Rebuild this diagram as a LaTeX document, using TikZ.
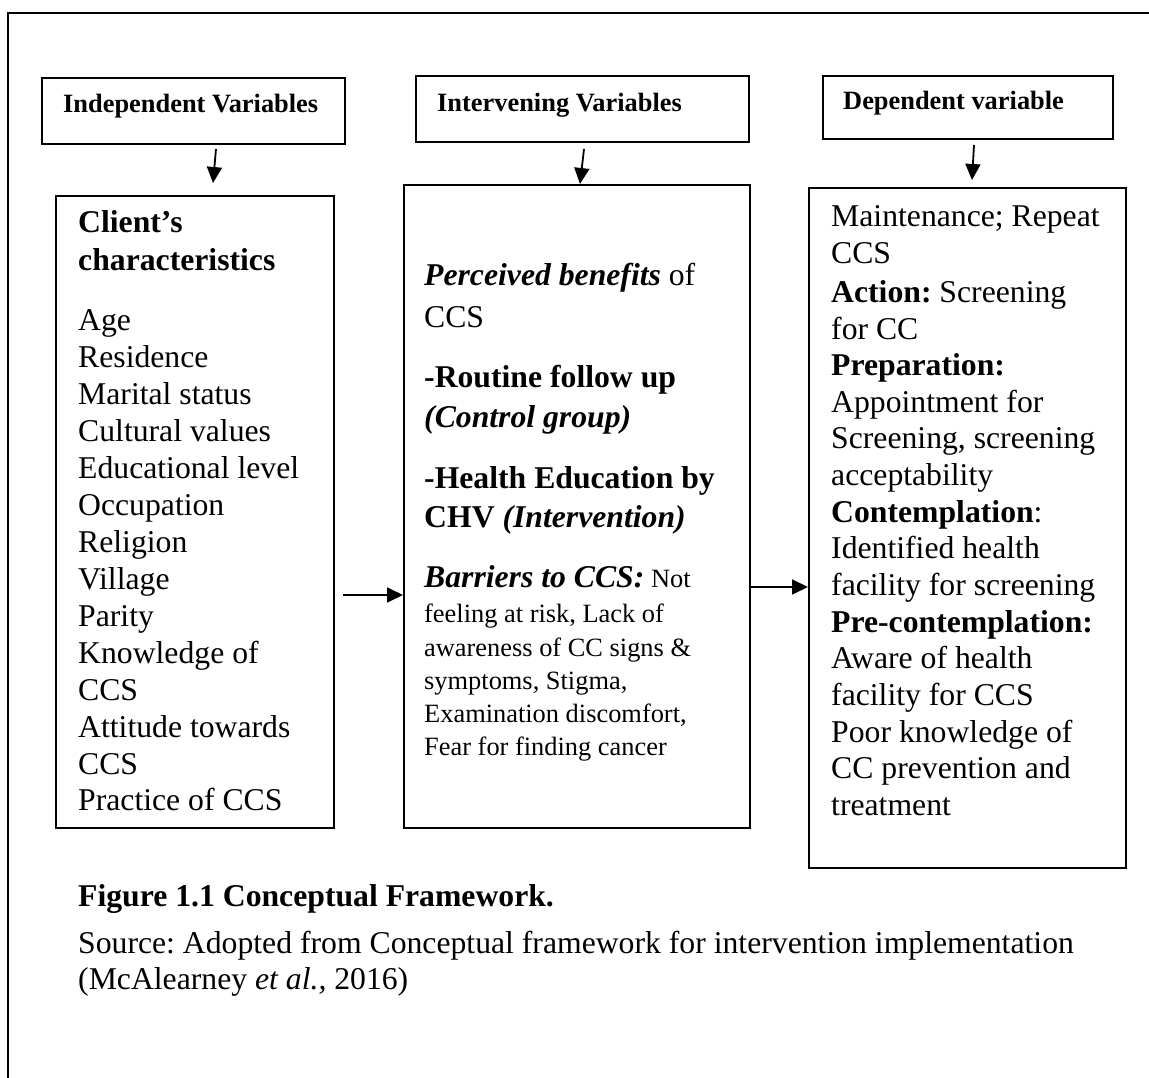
\documentclass[tikz,border=0pt]{standalone}
\usepackage{fontspec}
\setmainfont{Liberation Serif}
\usetikzlibrary{arrows.meta,calc}
\frenchspacing
\begin{document}
\begin{tikzpicture}[x=1pt,y=-1pt,
  box/.style={draw, line width=1.8pt, inner sep=0pt, outer sep=0pt, anchor=north west},
  txt/.style={anchor=base west, inner sep=0pt, font=\fontsize{31.7}{36}\selectfont},
  sml/.style={anchor=base west, inner sep=0pt, font=\fontsize{26.4}{30}\selectfont},
  arr/.style={line width=1.8pt, -{Triangle[length=16pt,width=15pt]}}]
\useasboundingbox (0,0) rectangle (1149,1078);
\draw[line width=2.7pt] (1149,13) -- (8,13) -- (8,1078);

% header boxes
\node[box, minimum width=303pt, minimum height=66pt] (h1) at (42,78) {};
\node[box, minimum width=333pt, minimum height=66pt] (h2) at (416,76) {};
\node[box, minimum width=290pt, minimum height=63pt] (h3) at (823,76) {};
\node[sml, font=\fontsize{26.4}{30}\selectfont\bfseries] (t-h1) at (63,113) {Independent Variables};
\node[sml, font=\fontsize{26.4}{30}\selectfont\bfseries] (t-h2) at (437,112) {Intervening Variables};
\node[sml, font=\fontsize{26.4}{30}\selectfont\bfseries] (t-h3) at (843,110) {Dependent variable};

% main boxes
\node[box, minimum width=278pt, minimum height=632pt] (b1) at (56,196) {};
\node[box, minimum width=346pt, minimum height=643pt] (b2) at (404,185) {};
\node[box, minimum width=317pt, minimum height=680pt] (b3) at (809,188) {};

% box 1 text
\node[txt] (c1) at (78,233) {\textbf{Client’s}};
\node[txt] (c2) at (78,270) {\textbf{characteristics}};
\node[txt] (c3) at (78,330) {Age};
\node[txt] (c4) at (78,367) {Residence};
\node[txt] (c5) at (78,404) {Marital status};
\node[txt] (c6) at (78,441) {Cultural values};
\node[txt] (c7) at (78,478) {Educational level};
\node[txt] (c8) at (78,515) {Occupation};
\node[txt] (c9) at (78,552) {Religion};
\node[txt] (c10) at (78,589) {Village};
\node[txt] (c11) at (78,626) {Parity};
\node[txt] (c12) at (78,663) {Knowledge of};
\node[txt] (c13) at (78,700) {CCS};
\node[txt] (c14) at (78,737) {Attitude towards};
\node[txt] (c15) at (78,774) {CCS};
\node[txt] (c16) at (78,810) {Practice of CCS};

% box 2 text
\node[txt] (m1) at (424,285) {\textbf{\textit{Perceived benefits}} of};
\node[txt] (m2) at (424,327) {CCS};
\node[txt] (m3) at (424,387) {\textbf{-Routine follow up}};
\node[txt] (m4) at (424,427) {\textbf{\textit{(Control group)}}};
\node[txt] (m5) at (424,488) {\textbf{-Health Education by}};
\node[txt] (m6) at (424,527) {\textbf{CHV \textit{(Intervention)}}};
\node[txt] (m7) at (424,587) {\textbf{\textit{Barriers to CCS:}}\fontsize{26.4}{30}\selectfont{} Not};
\node[sml] (m8) at (424,622) {feeling at risk, Lack of};
\node[sml] (m9) at (424,656) {awareness of CC signs \&};
\node[sml] (m10) at (424,689) {symptoms, Stigma,};
\node[sml] (m11) at (424,722) {Examination discomfort,};
\node[sml] (m12) at (424,755) {Fear for finding cancer};

% box 3 text
\node[txt] (d1) at (831,227) {Maintenance; Repeat};
\node[txt] (d2) at (831,264) {CCS};
\node[txt] (d3) at (831,302) {\textbf{Action:} Screening};
\node[txt] (d4) at (831,339) {for CC};
\node[txt] (d5) at (831,375) {\textbf{Preparation:}};
\node[txt] (d6) at (831,412) {Appointment for};
\node[txt] (d7) at (831,448) {Screening, screening};
\node[txt] (d8) at (831,485) {acceptability};
\node[txt] (d9) at (831,522) {\textbf{Contemplation}:};
\node[txt] (d10) at (831,558) {Identified health};
\node[txt] (d11) at (831,595) {facility for screening};
\node[txt] (d12) at (831,632) {\textbf{Pre-contemplation:}};
\node[txt] (d13) at (831,668) {Aware of health};
\node[txt] (d14) at (831,705) {facility for CCS};
\node[txt] (d15) at (831,742) {Poor knowledge of};
\node[txt] (d16) at (831,778) {CC prevention and};
\node[txt] (d17) at (831,815) {treatment};

% caption
\node[txt] (f1) at (78,906) {\textbf{Figure 1.1 Conceptual Framework.}};
\node[txt] (f2) at (78,953) {Source: Adopted from Conceptual framework for intervention implementation};
\node[txt] (f3) at (78,989) {(McAlearney \textit{et al.,} 2016)};

% arrows
\draw[arr] ($(h1.south)+(22.5,5)$) -- ($(b1.north)+(18,-13)$);
\draw[arr] ($(h2.south)+(1.5,7)$) -- ($(b2.north)+(3,-1)$);
\draw[arr] ($(h3.south)+(6,6)$) -- ($(b3.north)+(4.5,-8)$);
\draw[arr] ($(b1.east)+(9,83)$) -- ($(b2.west)+(-1,88.5)$);
\draw[arr] ($(b2.east)+(0,80.5)$) -- ($(b3.west)+(-1,59)$);
\end{tikzpicture}
\end{document}
